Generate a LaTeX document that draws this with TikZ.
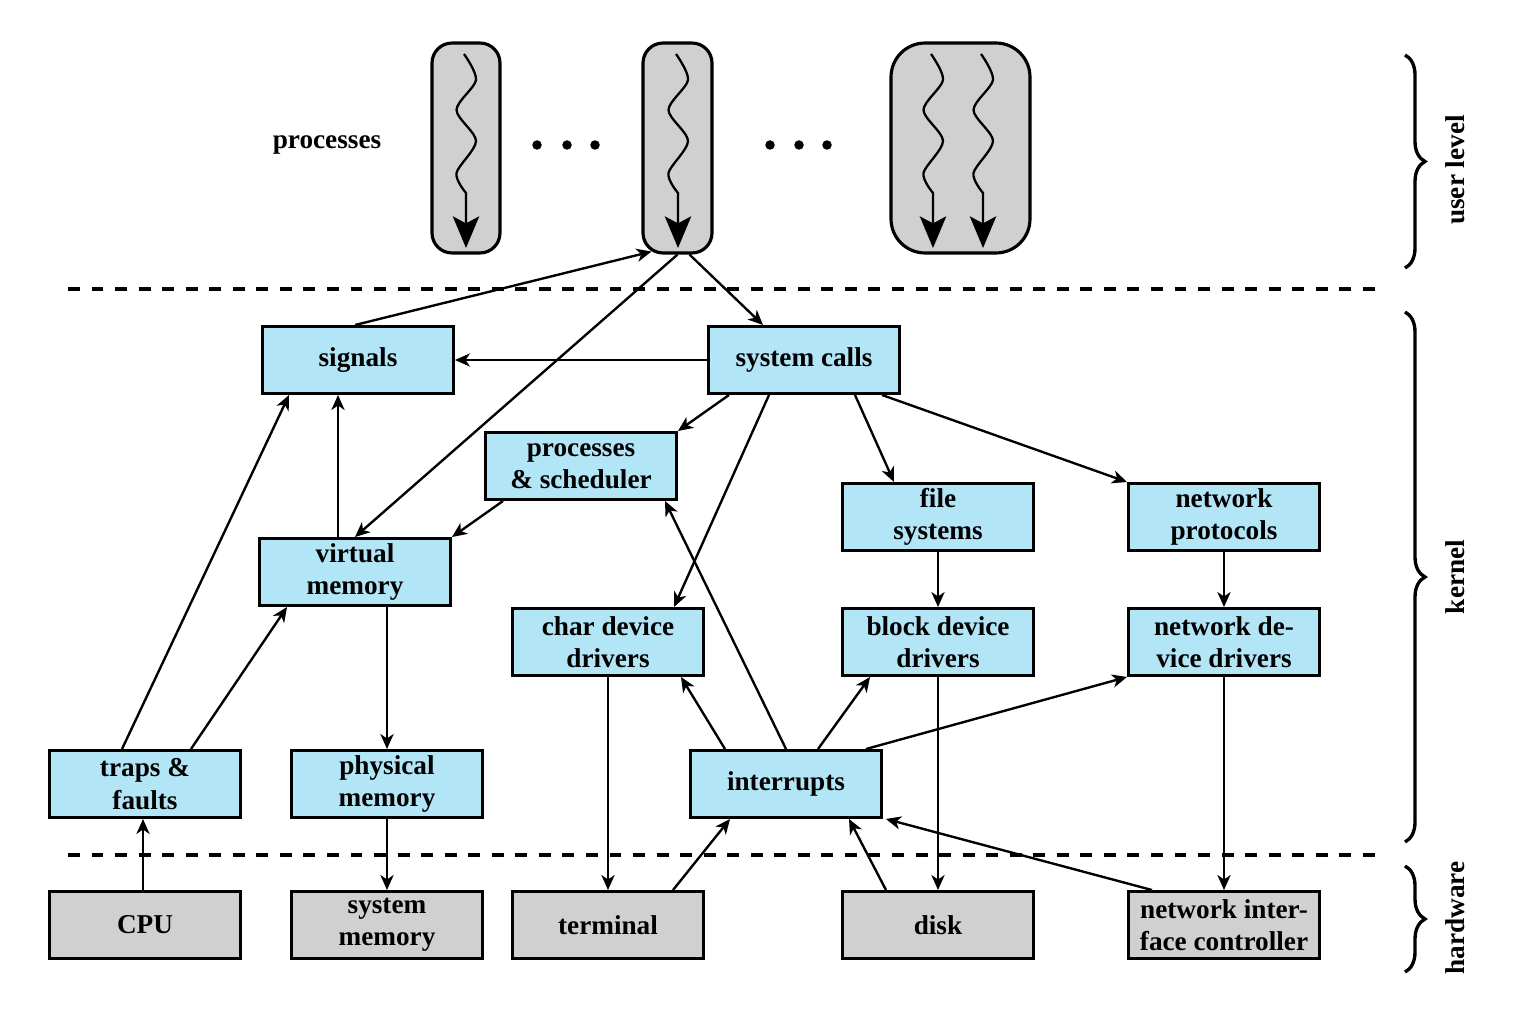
\documentclass[tikz,border=0pt]{standalone}
\usepackage{fontspec}
\setmainfont{Liberation Serif}
\usetikzlibrary{arrows.meta,calc,decorations.pathreplacing}
\definecolor{boxblue}{RGB}{178,229,246}
\definecolor{boxgray}{RGB}{208,208,208}
\newcommand{\threadline}[1]{%
  \draw[thread] plot[smooth] coordinates {(#1-2,54) (#1+10,80) (#1-9.5,110) (#1+10,141) (#1-9.5,173) (#1,193)} -- (#1,248);}
\begin{document}
\begin{tikzpicture}[x=0.02cm,y=-0.02cm,
  font=\fontsize{15.5}{18.5}\selectfont\bfseries,
  kbox/.style={draw, line width=1.7pt, fill=boxblue, minimum width=3.82cm, minimum height=1.34cm, align=center, inner sep=0pt},
  hbox/.style={kbox, fill=boxgray},
  conn/.style={-{Stealth[length=8.5pt,width=7.5pt,inset=2.5pt]}, line width=1.35pt},
  proc/.style={draw, line width=1.8pt, fill=boxgray, minimum height=4.2cm, inner sep=0pt},
  thread/.style={line width=1.3pt, -{Stealth[length=18pt,width=15pt,inset=4pt]}},
  sep/.style={line width=1.9pt, dash pattern=on 6.8pt off 6.6pt},
  bracestyle/.style={decorate, decoration={brace, amplitude=0.4cm}, line width=1.9pt},
  dot/.style={circle, fill=black, inner sep=0pt, minimum size=0.19cm},
]
\useasboundingbox (0,0) rectangle (1517,1013);

% processes (user level)
\node (plabel) at (327,145) {processes};
\node[proc, minimum width=1.36cm, rounded corners=0.4cm] (p1) at (466,148) {};
\node[proc, minimum width=1.38cm, rounded corners=0.4cm] (p2) at (677.5,148) {};
\node[proc, minimum width=2.78cm, rounded corners=0.68cm] (p3) at (960.5,148) {};
\threadline{466}
\threadline{678}
\threadline{933}
\threadline{983}
\foreach \i/\x in {1/537,2/567,3/595,4/770,5/799,6/827}
  \node[dot] (d\i) at (\x,145) {};

% separators
\draw[sep] (68,289) -- (1375,289);
\draw[sep] (68,855) -- (1375,855);

% kernel boxes
\node[kbox] (sig) at (358,360) {signals};
\node[kbox] (sc) at (804,360) {system calls};
\node[kbox] (ps) at (581,466) {processes\\\& scheduler};
\node[kbox] (vm) at (355,572) {virtual\\memory};
\node[kbox] (fs) at (938,517) {file\\systems};
\node[kbox] (np) at (1224,517) {network\\protocols};
\node[kbox] (cdd) at (608,642) {char device\\drivers};
\node[kbox] (bdd) at (938,642) {block device\\drivers};
\node[kbox] (ndd) at (1224,642) {network de-\\vice drivers};
\node[kbox] (tf) at (145,784) {traps \&\\faults};
\node[kbox] (pm) at (387,784) {physical\\memory};
\node[kbox] (intr) at (786,784) {interrupts};

% hardware boxes
\node[hbox] (cpu) at (145,925) {CPU};
\node[hbox] (sm) at (387,925) {system\\memory};
\node[hbox] (term) at (608,925) {terminal};
\node[hbox] (disk) at (938,925) {disk};
\node[hbox] (nic) at (1224,925) {network inter-\\face controller};

% connectors
\draw[conn] ($(sig.north)+(-3,0)$) -- ($(p2.south)+(-26,-3)$);
\draw[conn] (p2.south) -- (vm.north);
\draw[conn] ($(p2.south)+(12,0)$) -- ($(sc.north)+(-41,0)$);
\draw[conn] (sc.west) -- (sig.east);
\draw[conn] ($(sc.south)+(-75,0)$) -- (ps.north east);
\draw[conn] ($(sc.south)+(-35,0)$) -- ($(cdd.north)+(66,0)$);
\draw[conn] ($(sc.south)+(51,0)$) -- ($(fs.north)+(-44,0)$);
\draw[conn] ($(sc.south east)+(-19,0)$) -- (np.north west);
\draw[conn] ($(ps.south)+(-78,0)$) -- (vm.north east);
\draw[conn] ($(vm.north)+(-17,0)$) -- ($(sig.south)+(-20,0)$);
\draw[conn] ($(tf.north)+(-23,0)$) -- ($(sig.south west)+(28,0)$);
\draw[conn] ($(tf.north)+(46,0)$) -- ($(vm.south west)+(29,0)$);
\draw[conn] ($(vm.south)+(32,0)$) -- (pm.north);
\draw[conn] (pm.south) -- (sm.north);
\draw[conn] ($(cpu.north)+(-2,0)$) -- ($(tf.south)+(-2,0)$);
\draw[conn] (fs.south) -- (bdd.north);
\draw[conn] (np.south) -- (ndd.north);
\draw[conn] (cdd.south) -- (term.north);
\draw[conn] (bdd.south) -- (disk.north);
\draw[conn] (ndd.south) -- (nic.north);
\draw[conn] ($(intr.north)+(-61,0)$) -- ($(cdd.south east)+(-24,0)$);
\draw[conn] (intr.north) -- ($(ps.south east)+(-13,0)$);
\draw[conn] ($(intr.north)+(32,0)$) -- ($(bdd.south west)+(29,0)$);
\draw[conn] ($(intr.north east)+(-17,0)$) -- (ndd.south west);
\draw[conn] ($(term.north)+(65,0)$) -- ($(intr.south west)+(41,0)$);
\draw[conn] ($(disk.north)+(-52,0)$) -- ($(intr.south)+(63,0)$);
\draw[conn] ($(nic.north)+(-72,0)$) -- ($(intr.south east)+(3,0)$);

% braces and level labels
\draw[bracestyle] (1405,55) -- (1405,268);
\draw[bracestyle] (1405,312) -- (1405,842);
\draw[bracestyle] (1405,866) -- (1405,972);
\node[rotate=90] (lu) at (1455,170) {user level};
\node[rotate=90] (lk) at (1455,577) {kernel};
\node[rotate=90] (lh) at (1455,918) {hardware};
\end{tikzpicture}
\end{document}
